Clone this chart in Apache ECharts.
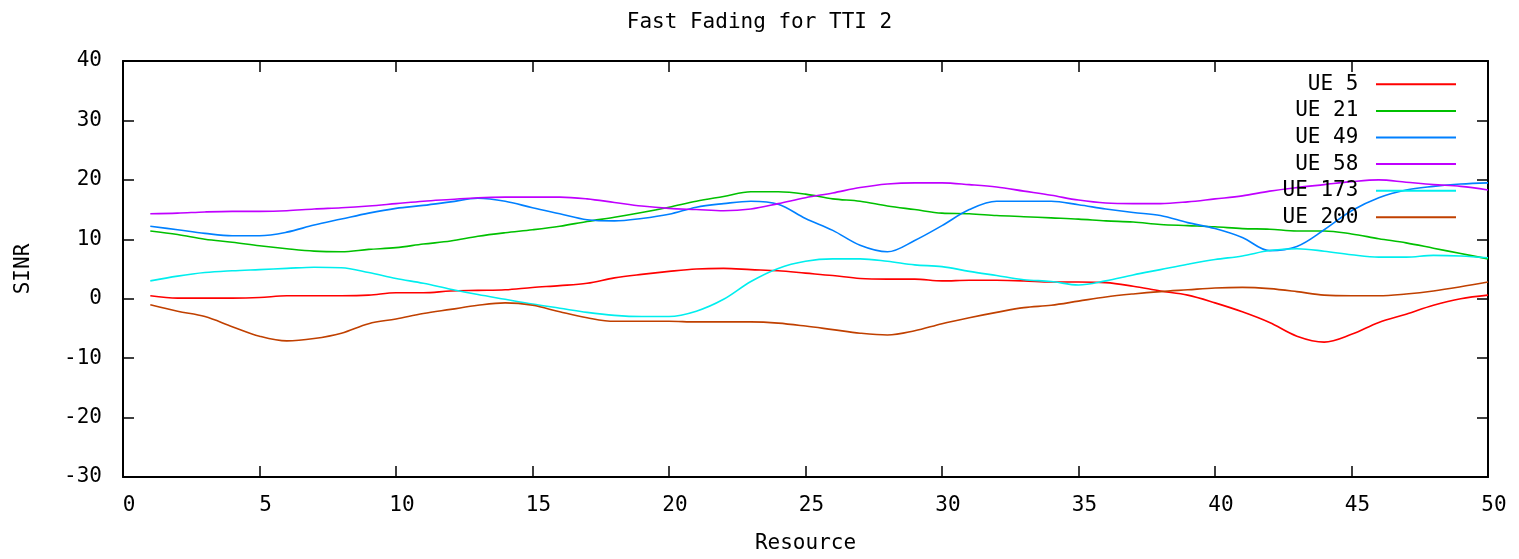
<!DOCTYPE html>
<html>
<head>
<meta charset="utf-8">
<script src="https://cdn.jsdelivr.net/npm/echarts@6/dist/echarts.min.js"></script>
<style>
  html, body { margin: 0; padding: 0; background: #fff; }
  #chart { width: 1519px; height: 559px; }
</style>
</head>
<body>
<div id="chart"></div>
<script>
// resource index on the x axis
const resources = [1, 2, 3, 4, 5, 6, 7, 8, 9, 10, 11, 12, 13, 14, 15, 16, 17, 18, 19, 20,
  21, 22, 23, 24, 25, 26, 27, 28, 29, 30, 31, 32, 33, 34, 35, 36, 37, 38, 39, 40,
  41, 42, 43, 44, 45, 46, 47, 48, 49, 50]

const ue5 = [0.5, 0.1, 0.1, 0.1, 0.2, 0.5, 0.5, 0.5, 0.6, 1.0,
  1.0, 1.3, 1.4, 1.5, 1.9, 2.2, 2.6, 3.5, 4.1, 4.6,
  5.0, 5.1, 4.9, 4.7, 4.3, 3.9, 3.4, 3.3, 3.3, 3.0,
  3.1, 3.1, 3.0, 2.8, 2.8, 2.7, 2.1, 1.3, 0.6, -0.7,
  -2.2, -4.0, -6.3, -7.3, -6.0, -4.0, -2.6, -1.1, 0.0, 0.6]

const ue21 = [11.4, 10.8, 10.0, 9.5, 8.9, 8.4, 8.0, 7.9, 8.3, 8.6,
  9.2, 9.7, 10.5, 11.1, 11.6, 12.2, 13.0, 13.7, 14.5, 15.4,
  16.4, 17.2, 18.0, 18.0, 17.6, 16.8, 16.4, 15.6, 15.0, 14.4,
  14.3, 14.0, 13.8, 13.6, 13.4, 13.1, 12.9, 12.5, 12.3, 12.1,
  11.8, 11.7, 11.4, 11.4, 10.9, 10.1, 9.4, 8.5, 7.6, 6.7]

const ue49 = [12.2, 11.6, 11.0, 10.6, 10.6, 11.2, 12.4, 13.4, 14.4, 15.2,
  15.7, 16.3, 16.9, 16.4, 15.3, 14.3, 13.3, 13.1, 13.5, 14.2,
  15.4, 16.0, 16.4, 15.9, 13.5, 11.5, 9.0, 7.9, 9.8, 12.3,
  15.0, 16.4, 16.4, 16.4, 15.8, 15.1, 14.5, 14.0, 12.8, 11.8,
  10.3, 8.1, 8.8, 11.6, 14.8, 17.0, 18.3, 18.9, 19.3, 19.5]

const ue58 = [14.3, 14.4, 14.6, 14.7, 14.7, 14.8, 15.1, 15.3, 15.6, 16.0,
  16.4, 16.7, 17.0, 17.1, 17.1, 17.1, 16.8, 16.2, 15.6, 15.2,
  15.0, 14.8, 15.1, 16.0, 17.0, 17.8, 18.7, 19.3, 19.5, 19.5,
  19.2, 18.8, 18.1, 17.4, 16.6, 16.1, 16.0, 16.0, 16.3, 16.8,
  17.3, 18.1, 18.7, 19.2, 19.7, 20.0, 19.6, 19.2, 18.9, 18.3]

const ue173 = [3.0, 3.8, 4.4, 4.7, 4.9, 5.1, 5.3, 5.2, 4.4, 3.4,
  2.6, 1.6, 0.7, -0.1, -0.9, -1.6, -2.3, -2.8, -3.0, -3.0,
  -2.1, -0.1, 2.9, 5.1, 6.3, 6.7, 6.7, 6.3, 5.7, 5.4,
  4.6, 3.9, 3.2, 2.9, 2.3, 3.0, 4.0, 4.9, 5.8, 6.6,
  7.2, 8.1, 8.4, 8.0, 7.4, 7.0, 7.0, 7.3, 7.2, 6.9]

const ue200 = [-1.0, -2.1, -3.0, -4.7, -6.3, -7.1, -6.7, -5.8, -4.2, -3.4,
  -2.5, -1.8, -1.1, -0.7, -1.1, -2.2, -3.2, -3.8, -3.8, -3.8,
  -3.9, -3.9, -3.9, -4.1, -4.6, -5.2, -5.8, -6.1, -5.4, -4.2,
  -3.2, -2.3, -1.5, -1.1, -0.4, 0.3, 0.8, 1.2, 1.5, 1.8,
  1.9, 1.7, 1.2, 0.6, 0.5, 0.5, 0.8, 1.3, 2.0, 2.8]

const seriesNames = ['UE 5', 'UE 21', 'UE 49', 'UE 58', 'UE 173', 'UE 200']
const seriesValues = [ue5, ue21, ue49, ue58, ue173, ue200]
const seriesColors = ['#ff0000', '#00c000', '#0080ff', '#c000ff', '#00eeee', '#c04000']

const font = 'DejaVu Sans Mono'
const fontSize = 21

const myChart = echarts.init(document.getElementById('chart'))

const series = seriesNames.map((name, i) => ({
  name: name,
  type: 'line',
  data: resources.map((x, j) => [x, seriesValues[i][j]]),
  smooth: 0.35,
  showSymbol: false,
  lineStyle: { width: 1.6, color: seriesColors[i] },
  itemStyle: { color: seriesColors[i] },
}))

const frameLine = { show: true, onZero: false, lineStyle: { color: '#000', width: 2 } }
const innerTick = { show: true, inside: true, length: 11, lineStyle: { color: '#000', width: 1.5 } }

const option = {
  animation: false,
  backgroundColor: '#fff',
  title: {
    text: 'Fast Fading for TTI 2',
    left: 'center',
    top: 7,
    textStyle: { fontFamily: font, fontSize: fontSize, fontWeight: 'normal', color: '#000' },
  },
  legend: {
    orient: 'vertical',
    right: 63,
    top: 71,
    padding: 0,
    itemGap: 0,
    align: 'right',
    icon: 'rect',
    itemWidth: 80,
    itemHeight: 2,
    formatter: (name) => name + ' ',
    textStyle: { fontFamily: font, fontSize: fontSize, color: '#000', lineHeight: 26.6 },
    data: seriesNames,
  },
  grid: { left: 123, right: 31, top: 61, bottom: 80 },
  xAxis: [
    {
      type: 'value',
      min: 0,
      max: 50,
      interval: 5,
      name: 'Resource',
      nameLocation: 'middle',
      nameGap: 56,
      nameTextStyle: { fontFamily: font, fontSize: fontSize, color: '#000' },
      axisLine: frameLine,
      axisTick: innerTick,
      splitLine: { show: false },
      axisLabel: { fontFamily: font, fontSize: fontSize, color: '#000', margin: 18, padding: [0, 0, 0, 12] },
    },
    {
      type: 'value',
      position: 'top',
      min: 0,
      max: 50,
      interval: 5,
      axisLine: frameLine,
      axisTick: innerTick,
      splitLine: { show: false },
      axisLabel: { show: false },
    },
  ],
  yAxis: [
    {
      type: 'value',
      min: -30,
      max: 40,
      interval: 10,
      name: 'SINR',
      nameLocation: 'middle',
      nameGap: 89,
      nameTextStyle: { fontFamily: font, fontSize: fontSize, color: '#000' },
      axisLine: frameLine,
      axisTick: innerTick,
      splitLine: { show: false },
      axisLabel: { fontFamily: font, fontSize: fontSize, color: '#000', margin: 21 },
    },
    {
      type: 'value',
      position: 'right',
      min: -30,
      max: 40,
      interval: 10,
      axisLine: frameLine,
      axisTick: innerTick,
      splitLine: { show: false },
      axisLabel: { show: false },
    },
  ],
  series: series,
}

myChart.setOption(option)
</script>
</body>
</html>
